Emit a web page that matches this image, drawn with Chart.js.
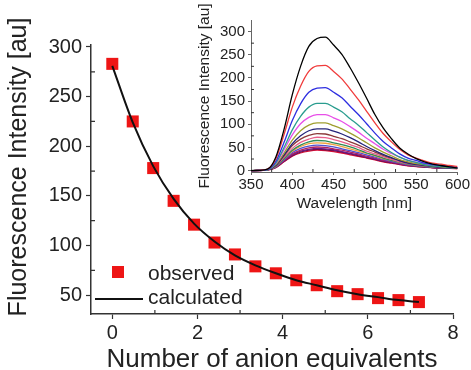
<!DOCTYPE html>
<html>
<head>
<meta charset="utf-8">
<script src="https://cdn.jsdelivr.net/npm/chart.js@4"></script>
<style>
  html, body { margin: 0; padding: 0; background: #fff; }
  #wrap { position: relative; width: 471px; height: 370px; overflow: hidden; }
  #main { position: absolute; left: 0; top: 0; }
  #inset { position: absolute; left: 190px; top: 0; }
</style>
</head>
<body>
<div id="wrap">
  <canvas id="main" width="471" height="370"></canvas>
  <canvas id="inset" width="281" height="215"></canvas>
</div>
<script>
// main plot: intensity at the peak vs. equivalents of anion
var equivalents = [0, 0.48, 0.96, 1.44, 1.92, 2.4, 2.88, 3.36, 3.84, 4.32, 4.8, 5.28, 5.76, 6.24, 6.72, 7.2];
var observed   = [283, 225, 178, 145, 121, 103, 91, 79, 72, 65, 60, 54, 51, 47, 45, 43];
var calculated = [281, 224, 180, 147, 122, 104, 90, 80, 72, 65, 60, 55, 51, 48, 45, 43];
var xTicks = [0, 2, 4, 6, 8];
var yTicks = [50, 100, 150, 200, 250, 300];
var xMinor = [1, 3, 5, 7];
var yMinor = [75, 125, 175, 225, 275];

// inset: emission spectra, one per titration step
var wavelengths = [350,360,370,380,390,400,410,420,430,440,450,460,470,480,490,500,510,520,530,540,550,560,570,580,590,600];
var spectrum1  = [0,0.6,3,29,89,164,225,268,285,288,271,251,222,190,156,121,92,69,49,36,26,19,14,11,8,6];
var spectrum2  = [0,0.6,3.4,25,78,137,182,214,226,227,214,198,176,153,128,103,80,62,46,34,27,21,16,14,11,9];
var spectrum3  = [0,0.5,2.7,20,61,108,144,169,178,179,169,157,139,121,101,81,63,49,36,27,22,16,13,11,9,7];
var spectrum4  = [0,0.4,2.2,16,50,88,117,137,145,145,137,127,112,98,82,66,51,39,29,22,18,13,10,9,7,6];
var spectrum5  = [0,0.4,2.4,15,45,77,101,115,121,121,114,106,95,83,70,58,46,37,29,22,18,15,12,10,8.5,7];
var spectrum6  = [0,0.3,2,13,38,66,86,98,103,103,97,90,81,71,60,49,40,32,24,19,15,12.5,10,8,7,6];
var spectrum7  = [0,0.3,1.8,11,34,58,75,86,90,90,85,79,71,62,52,43,35,28,21,16,13,11,9,7,6,5.5];
var spectrum8  = [0,0.3,2,11,32,54,68,76,80,79,74,69,62,55,47,40,33,27,22,17,14,12,10,8,7,6.4];
var spectrum9  = [0,0.3,1.8,10,29,48,61,68,72,71,67,62,56,50,42,36,30,24,19,15,12,10,8.6,7,6.5,5.8];
var spectrum10 = [0,0.3,1.6,9,26,44,55,62,65,64,60,56,51,45,38,33,27,22,18,14,11,9.4,7.8,6.5,5.9,5.2];
var spectrum11 = [0,0.3,1.8,9,26,42,52,58,60,59,56,52,47,42,37,32,26,22,18,14,12,10,8.4,7.2,6.6,6];
var spectrum12 = [0,0.3,1.7,8,24,39,48,53,55,54,51,47,43,39,34,29,24,20,16.5,13,11,9.4,7.7,6.6,6,5.5];
var spectrum13 = [0,0.3,1.5,7.7,22,36,44,49,51,50,47,44,40,36,31,27,22,19,15,12,10,8.7,7.1,6.1,5.6,5.1];
var spectrum14 = [0,0.2,1.4,7.2,21,34,42,46,48,47,45,41,37,34,29,25,21,18,14,11.5,9.6,8.2,6.7,5.8,5.3,4.8];
var spectrum15 = [0,0.2,1.4,6.9,20,32,40,44,46,45,43,40,36,32,28,24,20,17,14,11,9.2,7.8,6.4,5.5,5,4.6];
var spectrum16 = [0,0.2,1.3,6.6,19,31,38,42,44,43,41,38,34,31,27,23,19,16,13,10.5,8.8,7.5,6.2,5.3,4.8,4.4];
var spectra = [spectrum1, spectrum2, spectrum3, spectrum4, spectrum5, spectrum6, spectrum7, spectrum8,
               spectrum9, spectrum10, spectrum11, spectrum12, spectrum13, spectrum14, spectrum15, spectrum16];
var spectraColors = ['#000000','#f03c3c','#2e2ee0','#2a9d8f','#e84fe8','#a0a030','#25257a','#8b3a3a',
                     '#e8608a','#2e8b57','#f0a040','#5050d0','#b02060','#6a1a8a','#7a0a3a','#e0103a'];
var insetXTicks = [350, 400, 450, 500, 550, 600];
var insetYTicks = [0, 50, 100, 150, 200, 250, 300];
var insetXMinor = [375, 425, 475, 525, 575];
var insetYMinor = [25, 75, 125, 175, 225, 275];

var FONT = 'Liberation Sans, Arial, Helvetica, sans-serif';
var AXIS = '#333';
var TEXT = '#222';
var RED = '#ee1515';

function pts(xs, ys) {
  return xs.map(function (x, i) { return { x: x, y: ys[i] }; });
}

// short inward minor ticks (chart.js has only one tick set)
var minorTicks = {
  id: 'minorTicks',
  afterDraw: function (chart, args, opts) {
    var ctx = chart.ctx, xs = chart.scales.x, ys = chart.scales.y;
    ctx.save();
    ctx.strokeStyle = AXIS;
    ctx.lineWidth = opts.width || 1;
    ctx.beginPath();
    (opts.x || []).forEach(function (v) {
      var p = xs.getPixelForValue(v);
      ctx.moveTo(p, ys.bottom); ctx.lineTo(p, ys.bottom - opts.len);
    });
    (opts.y || []).forEach(function (v) {
      var p = ys.getPixelForValue(v);
      ctx.moveTo(xs.left, p); ctx.lineTo(xs.left + opts.len, p);
    });
    ctx.stroke();
    ctx.restore();
  }
};

// legend inside the plot (bottom left) + the y title, which sits a bit above the axis middle
var mainExtras = {
  id: 'mainExtras',
  afterDraw: function (chart) {
    var ctx = chart.ctx, a = chart.chartArea;
    ctx.save();
    ctx.fillStyle = RED;
    ctx.fillRect(a.left + 21, a.bottom - 48, 12, 12);
    ctx.strokeStyle = '#111';
    ctx.lineWidth = 2;
    ctx.beginPath();
    ctx.moveTo(a.left + 4, a.bottom - 15);
    ctx.lineTo(a.left + 52, a.bottom - 15);
    ctx.stroke();
    ctx.fillStyle = TEXT;
    ctx.font = '21px ' + FONT;
    ctx.textBaseline = 'middle';
    ctx.fillText('observed', a.left + 57, a.bottom - 40);
    ctx.fillText('calculated', a.left + 57, a.bottom - 16);

    ctx.translate(19, 167);
    ctx.rotate(-Math.PI / 2);
    ctx.textAlign = 'center';
    ctx.font = '25px ' + FONT;
    ctx.fillText('Fluorescence Intensity [au]', 0, 0);
    ctx.restore();
  }
};

new Chart(document.getElementById('main'), {
  type: 'scatter',
  data: {
    datasets: [
      {
        label: 'calculated',
        data: pts(equivalents, calculated),
        showLine: true,
        borderColor: '#111',
        borderWidth: 2,
        pointRadius: 0,
        cubicInterpolationMode: 'monotone'
      },
      {
        label: 'observed',
        data: pts(equivalents, observed),
        pointStyle: 'rect',
        pointRadius: 8.5,
        backgroundColor: RED,
        borderWidth: 0,
        showLine: false
      }
    ]
  },
  options: {
    responsive: false,
    animation: false,
    events: [],
    layout: { padding: { left: 0, right: 18, top: 45, bottom: 0 } },
    plugins: {
      legend: { display: false },
      tooltip: { enabled: false },
      minorTicks: { x: xMinor, y: yMinor, len: 4, width: 1.2 }
    },
    scales: {
      x: {
        type: 'linear',
        min: -0.5,
        max: 8,
        afterBuildTicks: function (s) { s.ticks = xTicks.map(function (v) { return { value: v }; }); },
        afterFit: function (s) { s.height = 56; },
        grid: { drawOnChartArea: false, tickLength: 5, tickColor: AXIS, tickWidth: 1.2 },
        border: { color: AXIS, width: 1.5 },
        ticks: { font: { family: FONT, size: 20 }, color: TEXT, padding: 2, maxRotation: 0 },
        title: {
          display: true,
          text: 'Number of anion equivalents',
          font: { family: FONT, size: 26, lineHeight: 1 },
          color: TEXT,
          padding: { top: 0, bottom: -3 }
        }
      },
      y: {
        min: 31,
        max: 302,
        afterBuildTicks: function (s) { s.ticks = yTicks.map(function (v) { return { value: v }; }); },
        afterFit: function (s) { s.width = 91; },
        grid: { drawOnChartArea: false, tickLength: 5, tickColor: AXIS, tickWidth: 1.2 },
        border: { color: AXIS, width: 1.5 },
        ticks: { font: { family: FONT, size: 20 }, color: TEXT, padding: 4 },
        title: { display: false }
      }
    }
  },
  plugins: [minorTicks, mainExtras]
});

new Chart(document.getElementById('inset'), {
  type: 'scatter',
  data: {
    datasets: spectra.map(function (s, i) {
      return {
        label: 'step ' + (i + 1),
        data: pts(wavelengths, s),
        showLine: true,
        borderColor: spectraColors[i],
        borderWidth: 1.3,
        pointRadius: 0,
        cubicInterpolationMode: 'monotone'
      };
    })
  },
  options: {
    responsive: false,
    animation: false,
    events: [],
    layout: { padding: { left: 0, right: 13, top: 20, bottom: 0 } },
    plugins: {
      legend: { display: false },
      tooltip: { enabled: false },
      minorTicks: { x: insetXMinor, y: insetYMinor, len: 3, width: 1 }
    },
    scales: {
      x: {
        type: 'linear',
        min: 350,
        max: 600,
        afterBuildTicks: function (s) { s.ticks = insetXTicks.map(function (v) { return { value: v }; }); },
        afterFit: function (s) { s.height = 43; },
        grid: { drawOnChartArea: false, tickLength: 3, tickColor: '#666', tickWidth: 1 },
        border: { color: '#666', width: 1 },
        ticks: { font: { family: FONT, size: 15 }, color: TEXT, padding: 1, maxRotation: 0 },
        title: {
          display: true,
          text: 'Wavelength [nm]',
          font: { family: FONT, size: 15.5, lineHeight: 1.2 },
          color: TEXT,
          padding: { top: 0, bottom: 2 }
        }
      },
      y: {
        min: -3,
        max: 325,
        afterBuildTicks: function (s) { s.ticks = insetYTicks.map(function (v) { return { value: v }; }); },
        afterFit: function (s) { s.width = 61; },
        grid: { drawOnChartArea: false, tickLength: 3, tickColor: '#666', tickWidth: 1 },
        border: { color: '#666', width: 1 },
        ticks: { font: { family: FONT, size: 15 }, color: TEXT, padding: 3 },
        title: {
          display: true,
          text: 'Fluorescence Intensity [au]',
          font: { family: FONT, size: 15.5, lineHeight: 1.2 },
          color: TEXT,
          padding: { top: 5, bottom: 0 }
        }
      }
    }
  },
  plugins: [minorTicks]
});
</script>
</body>
</html>
